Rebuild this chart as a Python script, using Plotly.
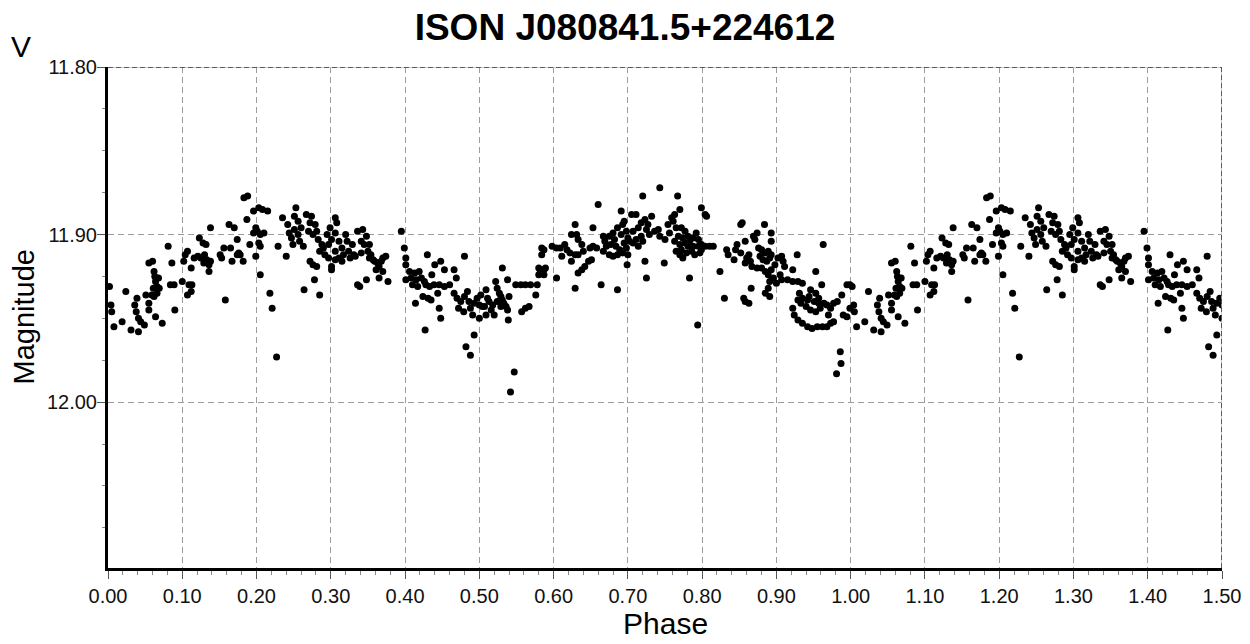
import plotly.graph_objects as go

# ---- data: phase (0..1) and V magnitude ----
phase_a = [0.002,0.004,0.005,0.008,0.019,0.024,0.031,0.041,0.039,0.036,0.038,0.041,0.044,0.049,0.051,0.055,0.055,0.059,0.061,0.062,
           0.063,0.064,0.066,0.066,0.062,0.060,0.055,0.068,0.069,0.064,0.073,0.081,0.086,0.084,0.089,0.090,0.100,0.102,0.104,0.107,
           0.109,0.107,0.112,0.112,0.113,0.116,0.121,0.123,0.125,0.128,0.130,0.132,0.129,0.133,0.136,0.136,0.138,0.138,0.153,0.156,
           0.158,0.163,0.165,0.167,0.151]
mag_a = [11.931,11.942,11.946,11.955,11.952,11.934,11.957,11.958,11.938,11.942,11.946,11.950,11.952,11.954,11.936,11.941,11.945,11.936,11.932,11.922,
         11.925,11.928,11.931,11.935,11.937,11.916,11.917,11.926,11.932,11.949,11.953,11.907,11.917,11.930,11.930,11.945,11.928,11.916,11.912,11.910,
         11.930,11.936,11.934,11.920,11.930,11.914,11.913,11.902,11.914,11.905,11.912,11.906,11.917,11.915,11.918,11.922,11.896,11.916,11.914,11.908,
         11.939,11.894,11.908,11.916,11.912]

phase_b = [0.183,0.188,0.187,0.196,0.203,0.208,0.215,0.199,0.196,0.201,0.205,0.210,0.170,0.174,0.176,0.174,0.178,0.182,0.191,0.199,
           0.203,0.205,0.205,0.218,0.221,0.227,0.229,0.240,0.235,0.242,0.244,0.247,0.253,0.251,0.256,0.251,0.256,0.260,0.258,0.249,
           0.263,0.267,0.274,0.279,0.272,0.270,0.276,0.281,0.283,0.288,0.285,0.290,0.292,0.297,0.272,0.276,0.281,0.278,0.264,0.285,
           0.301,0.301,0.295,0.299,0.306,0.308,0.306,0.301,0.297,0.311,0.315,0.320,0.322,0.324,0.317,0.311,0.306,0.329,0.331,0.326,
           0.336,0.336,0.333,0.306,0.315]
mag_b = [11.878,11.877,11.891,11.886,11.884,11.885,11.886,11.896,11.899,11.898,11.900,11.899,11.896,11.903,11.911,11.912,11.912,11.916,11.906,11.913,
         11.905,11.907,11.924,11.935,11.944,11.973,11.907,11.913,11.890,11.894,11.899,11.902,11.884,11.889,11.892,11.897,11.900,11.896,11.904,11.906,
         11.907,11.888,11.889,11.894,11.893,11.898,11.900,11.898,11.903,11.906,11.910,11.908,11.912,11.914,11.916,11.918,11.919,11.927,11.933,11.936,
         11.919,11.921,11.900,11.896,11.890,11.893,11.899,11.903,11.906,11.904,11.908,11.900,11.904,11.910,11.912,11.914,11.910,11.906,11.912,11.914,
         11.898,11.930,11.913,11.915,11.916]

phase_c = [0.343,0.348,0.341,0.345,0.352,0.350,0.341,0.354,0.357,0.352,0.359,0.363,0.368,0.370,0.374,0.365,0.361,0.370,0.365,0.377,
           0.348,0.339,0.395,0.399,0.401,0.401,0.406,0.413,0.419,0.408,0.401,0.415,0.422,0.426,0.410,0.417,0.428,0.433,0.439,0.430,
           0.436,0.440,0.448,0.453,0.446,0.453,0.460,0.444,0.424,0.431,0.435,0.414,0.446,0.448,0.427,0.480,0.466,0.469,0.466,0.470,
           0.475,0.480,0.484,0.486,0.472,0.479,0.488,0.493,0.497,0.502,0.500,0.491,0.500,0.504,0.493,0.482,0.488]
mag_c = [11.897,11.901,11.904,11.906,11.906,11.910,11.911,11.912,11.915,11.914,11.916,11.917,11.916,11.914,11.913,11.919,11.921,11.922,11.926,11.928,
         11.927,11.931,11.898,11.908,11.914,11.918,11.922,11.923,11.922,11.926,11.927,11.927,11.926,11.928,11.930,11.931,11.930,11.931,11.930,11.912,
         11.924,11.918,11.916,11.921,11.930,11.931,11.930,11.935,11.937,11.938,11.939,11.941,11.944,11.950,11.957,11.913,11.921,11.926,11.935,11.938,
         11.940,11.937,11.934,11.940,11.944,11.946,11.944,11.941,11.938,11.936,11.942,11.948,11.950,11.943,11.960,11.967,11.972]

phase_d = [0.509,0.511,0.513,0.518,0.516,0.520,0.509,0.507,0.522,0.524,0.527,0.529,0.531,0.533,0.536,0.538,0.529,0.524,0.531,0.538,
           0.540,0.539,0.547,0.542,0.549,0.556,0.562,0.569,0.578,0.557,0.562,0.567,0.576,0.580,0.582,0.584,0.587,0.589,0.580,0.587,
           0.584,0.584,0.587,0.598,0.604,0.609,0.611,0.615,0.618,0.622,0.629,0.633,0.640,0.624,0.604,0.624,0.631,0.633,0.638,0.629,
           0.633,0.638,0.642,0.647,0.651,0.629,0.649,0.653,0.658,0.653,0.660,0.664,0.667,0.669,0.667,0.671]
mag_d = [11.933,11.938,11.940,11.942,11.945,11.948,11.948,11.943,11.928,11.932,11.935,11.937,11.939,11.941,11.943,11.945,11.943,11.940,11.920,11.927,
         11.937,11.951,11.982,11.994,11.930,11.930,11.930,11.930,11.930,11.946,11.944,11.943,11.936,11.920,11.923,11.922,11.921,11.920,11.924,11.924,
         11.912,11.908,11.909,11.907,11.908,11.908,11.913,11.906,11.909,11.911,11.912,11.912,11.910,11.916,11.926,11.900,11.900,11.903,11.906,11.894,
         11.923,11.921,11.919,11.916,11.915,11.932,11.908,11.907,11.908,11.896,11.882,11.930,11.901,11.904,11.910,11.907]

phase_e = [0.675,0.680,0.682,0.677,0.684,0.686,0.691,0.693,0.695,0.698,0.700,0.695,0.689,0.693,0.698,0.702,0.700,0.675,0.680,0.686,
           0.691,0.705,0.711,0.699,0.686,0.720,0.707,0.714,0.718,0.723,0.727,0.732,0.725,0.718,0.711,0.707,0.714,0.720,0.729,0.736,
           0.741,0.743,0.750,0.754,0.759,0.763,0.761,0.756,0.743,0.767,0.770,0.723,0.725,0.749,0.765,0.772,0.777,0.768,0.774,0.781,
           0.763,0.770,0.777,0.783,0.788,0.792,0.795,0.781,0.788,0.795,0.799,0.804,0.810,0.815,0.765,0.770,0.774,0.779,0.786,0.790,
           0.797,0.799,0.772,0.799,0.804,0.806,0.783,0.794,0.824,0.830,0.833,0.835]
mag_e = [11.901,11.899,11.903,11.906,11.907,11.896,11.900,11.894,11.892,11.898,11.902,11.905,11.909,11.911,11.908,11.904,11.912,11.912,11.913,11.912,
         11.886,11.888,11.888,11.918,11.933,11.877,11.898,11.896,11.893,11.891,11.894,11.889,11.897,11.901,11.903,11.905,11.907,11.904,11.900,11.898,
         11.897,11.901,11.903,11.894,11.890,11.888,11.892,11.899,11.872,11.877,11.885,11.916,11.926,11.917,11.896,11.896,11.898,11.901,11.902,11.901,
         11.904,11.906,11.905,11.904,11.902,11.899,11.903,11.907,11.907,11.907,11.906,11.907,11.907,11.907,11.910,11.912,11.914,11.911,11.910,11.912,
         11.911,11.909,11.909,11.884,11.888,11.889,11.926,11.954,11.922,11.938,11.909,11.912]

phase_f = [0.852,0.854,0.847,0.845,0.852,0.843,0.858,0.860,0.858,0.863,0.865,0.867,0.869,0.874,0.871,0.884,0.893,0.893,0.876,0.880,
           0.885,0.889,0.878,0.882,0.887,0.891,0.893,0.874,0.880,0.885,0.889,0.893,0.898,0.902,0.907,0.909,0.911,0.891,0.896,0.900,
           0.905,0.907,0.889,0.885,0.891,0.866,0.856,0.858,0.863,0.922,0.928,0.915,0.922,0.929,0.935,0.963,0.953,0.961,0.946,0.953,
           0.957,0.944,0.931,0.929,0.933,0.940,0.946,0.953,0.959,0.964,0.957,0.951,0.935,0.942,0.922,0.924,0.929,0.935,0.942,0.948,
           0.955,0.962,0.968,0.973,0.977,0.970,0.973,0.968,0.977,0.982,0.988,0.995,0.999,0.990,0.995,0.999,0.986,0.987,0.981]
mag_f = [11.894,11.893,11.906,11.909,11.911,11.915,11.904,11.914,11.917,11.912,11.916,11.919,11.901,11.899,11.903,11.894,11.899,11.904,11.908,11.909,
         11.911,11.910,11.913,11.915,11.916,11.914,11.912,11.920,11.920,11.922,11.924,11.921,11.918,11.914,11.913,11.916,11.919,11.928,11.926,11.929,
         11.924,11.927,11.932,11.935,11.937,11.932,11.938,11.940,11.941,11.921,11.912,11.927,11.928,11.928,11.929,11.906,11.922,11.930,11.933,11.935,
         11.938,11.937,11.935,11.939,11.941,11.943,11.945,11.946,11.944,11.941,11.941,11.940,11.938,11.939,11.944,11.948,11.951,11.953,11.955,11.956,
         11.955,11.955,11.955,11.953,11.952,11.948,11.944,11.942,11.941,11.940,11.936,11.930,11.930,11.948,11.949,11.944,11.970,11.977,11.983]

x_ticks = [0.0, 0.1, 0.2, 0.3, 0.4, 0.5, 0.6, 0.7, 0.8, 0.9, 1.0, 1.1, 1.2, 1.3, 1.4, 1.5]
y_ticks = [11.80, 11.90, 12.00]
title_text = "ISON J080841.5+224612"

# ---- fold: show 1.5 cycles (phase 0..0.5 repeated at 1.0..1.5) ----
phase = phase_a + phase_b + phase_c + phase_d + phase_e + phase_f
mag = mag_a + mag_b + mag_c + mag_d + mag_e + mag_f
xs = list(phase)
ys = list(mag)
for p, m in zip(phase, mag):
    if p <= 0.5:
        xs.append(p + 1.0)
        ys.append(m)

FONT = "Liberation Sans, Arial, sans-serif"

# the page body has an 8px default margin; compensate so the chart fills the window
OFF = 8
W, H = 1250 - OFF, 644 - OFF
ML, MR, MT, MB = 108 - OFF, 28, 67 - OFF, 76

fig = go.Figure()
fig.add_trace(go.Scatter(
    x=xs, y=ys, mode="markers",
    marker=dict(size=7, color="black", line=dict(width=0)),
    hoverinfo="skip", showlegend=False,
))

# top and right frame (dashed)
for shp in [dict(x0=0, x1=1.5, y0=11.80, y1=11.80), dict(x0=1.5, x1=1.5, y0=11.80, y1=12.099)]:
    fig.add_shape(type="line", xref="x", yref="y", line=dict(color="#bdbdbd", width=1.5), **shp)
    fig.add_shape(type="line", xref="x", yref="y", line=dict(color="#333333", width=1.5, dash="5px,3px"), **shp)

fig.update_layout(
    width=W, height=H,
    paper_bgcolor="white", plot_bgcolor="white",
    margin=dict(l=ML, r=MR, t=MT, b=MB, autoexpand=False),
    font=dict(family=FONT, color="black"),
    title=dict(text="<b>" + title_text + "</b>", x=(625 - OFF) / W, xref="container", xanchor="center",
               y=1 - (27 - OFF) / H, yref="container", yanchor="middle",
               font=dict(family=FONT, size=37, color="black")),
    showlegend=False,
)

fig.update_xaxes(
    range=[0, 1.5], tickmode="array", tickvals=x_ticks,
    ticktext=[f"{v:.2f}" for v in x_ticks],
    tickfont=dict(family=FONT, size=20, color="#111"),
    showgrid=True, gridcolor="#9c9c9c", gridwidth=1, griddash="6px,4px",
    showline=True, linecolor="black", linewidth=3, zeroline=False,
    ticks="outside", ticklen=8, tickwidth=1, tickcolor="#555",
    minor=dict(dtick=0.02, tick0=0, ticks="outside", ticklen=4, tickcolor="#888", showgrid=False),
)
fig.update_yaxes(
    range=[12.099, 11.80], tickmode="array", tickvals=y_ticks,
    ticktext=[f"{v:.2f}" for v in y_ticks],
    tickfont=dict(family=FONT, size=20, color="#111"),
    showgrid=True, gridcolor="#9c9c9c", gridwidth=1, griddash="6px,4px",
    showline=True, linecolor="black", linewidth=3, zeroline=False,
    ticks="outside", ticklen=8, tickwidth=1, tickcolor="#555", ticklabelstandoff=-4,
    minor=dict(dtick=0.025, tick0=11.8, ticks="outside", ticklen=3, tickcolor="#888", showgrid=False),
)

pw = W - ML - MR
ph = H - MT - MB
# positions given in window pixels, converted to paper fractions
def px_x(x):
    return (x - OFF - ML) / pw

def px_y(y):
    return (H - MB - (y - OFF)) / ph

fig.add_annotation(text="V", xref="paper", yref="paper", x=px_x(21), y=px_y(46),
                   showarrow=False, xanchor="center", yanchor="middle",
                   font=dict(family=FONT, size=30, color="black"))
fig.add_annotation(text="Magnitude", xref="paper", yref="paper", x=px_x(23), y=0.5,
                   textangle=-90, showarrow=False, xanchor="center", yanchor="middle",
                   font=dict(family=FONT, size=29, color="black"))
fig.add_annotation(text="Phase", xref="paper", yref="paper", x=0.5, y=px_y(623),
                   showarrow=False, xanchor="center", yanchor="middle",
                   font=dict(family=FONT, size=30, color="black"))

fig.write_html("out.html")
